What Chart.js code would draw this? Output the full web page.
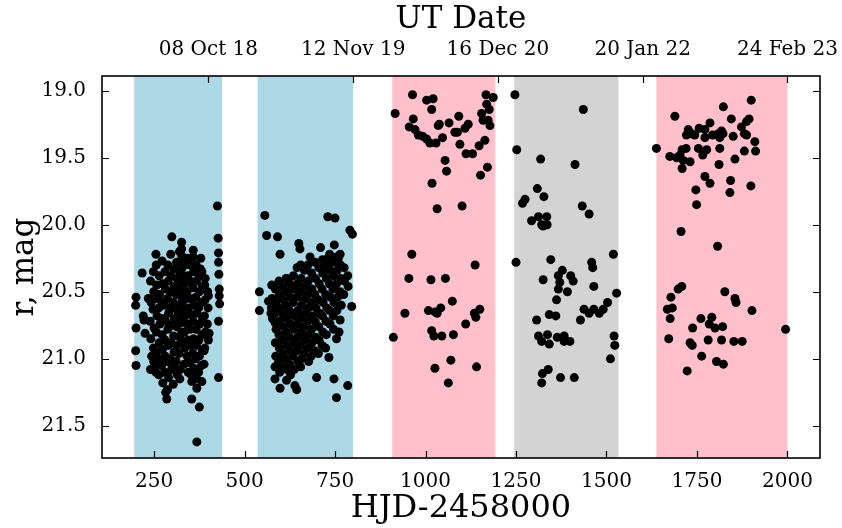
<!DOCTYPE html>
<html>
<head>
<meta charset="utf-8">
<script src="https://cdn.jsdelivr.net/npm/chart.js@4"></script>
<style>
  html, body { margin: 0; padding: 0; background: #fff; }
  canvas { display: block; }
</style>
</head>
<body>
<canvas id="lcChart" width="842" height="528"></canvas>
<script>
// tick values / labels
const xTicks = [250, 500, 750, 1000, 1250, 1500, 1750, 2000];
const yTicks = [19.0, 19.5, 20.0, 20.5, 21.0, 21.5];
const dateTicks = [400, 800, 1200, 1600, 2000];
const dateLabels = ['08 Oct 18', '12 Nov 19', '16 Dec 20', '20 Jan 22', '24 Feb 23'];

// observing seasons (shaded spans)
const seasonStart = [195, 536, 908, 1245, 1638];
const seasonEnd = [438, 800, 1193, 1533, 2000];
const seasonColor = ['#add8e6', '#add8e6', '#ffc0cb', '#d3d3d3', '#ffc0cb'];

// photometry: [HJD-2458000, r mag]
const season1 = [
  [200,20.54],[199,20.60],[200,20.77],[199,20.94],[200,21.05],
  [217,20.36],[234,20.55],[220,20.68],[222,20.71],[225,20.81],
  [255,20.22],[299,20.09],[358,20.19],[379,20.25],[378,20.33],[391,20.40],[400,20.53],
  [285,21.30],[354,21.30],[375,21.36],[368,21.62],[287,21.23],[303,21.19],[321,21.15],
  [354,21.17],[368,21.22],[382,21.17],[252,21.05],
  [425,19.86],[427,20.10],[428,20.21],[428,20.28],[429,20.37],[430,20.48],[430,20.53],
  [431,20.59],[428,20.72],[428,21.14],[402,20.81],[388,20.94],[388,21.04],
  [240,20.42],[242,20.58],[239,20.72],[241,20.85],[243,20.98],[240,21.08],
  [248,20.35],[249,20.50],[247,20.63],[250,20.77],[248,20.92],[249,21.02],
  [256,20.30],[257,20.45],[255,20.55],[258,20.68],[256,20.80],[257,20.95],[255,21.10],
  [264,20.38],[265,20.52],[263,20.62],[266,20.74],[264,20.88],[265,21.00],[263,21.12],
  [272,20.27],[273,20.44],[271,20.58],[274,20.70],[272,20.82],[273,20.93],[271,21.05],[274,21.18],
  [280,20.35],[281,20.48],[279,20.60],[282,20.72],[280,20.86],[281,20.98],[279,21.10],[282,21.25],
  [288,20.30],[289,20.42],[287,20.55],[290,20.66],[288,20.78],[289,20.90],[287,21.02],[290,21.14],
  [296,20.22],[297,20.38],[295,20.50],[298,20.62],[296,20.75],[297,20.88],[295,21.00],[298,21.08],
  [304,20.33],[305,20.46],[303,20.58],[306,20.70],[304,20.83],[305,20.95],[303,21.05],
  [312,20.28],[313,20.40],[311,20.52],[314,20.64],[312,20.76],[313,20.90],[311,21.02],[314,21.12],
  [320,20.20],[321,20.35],[319,20.48],[322,20.60],[320,20.72],[321,20.84],[319,20.96],[322,21.08],
  [326,20.13],[326,20.18],[326,20.23],[326,20.28],[326,20.33],[326,20.38],[326,20.43],[326,20.48],
  [326,20.53],[326,20.58],[326,20.63],[326,20.68],[326,20.73],[326,20.80],[326,20.88],
  [334,20.30],[335,20.44],[333,20.56],[336,20.68],[334,20.80],[335,20.92],[333,21.04],
  [342,20.25],[343,20.38],[341,20.50],[344,20.62],[342,20.74],[343,20.86],[341,20.98],[344,21.10],
  [350,20.30],[351,20.42],[349,20.55],[352,20.67],[350,20.78],[351,20.90],[349,21.03],[352,21.12],
  [358,20.24],[359,20.35],[357,20.47],[360,20.60],[358,20.72],[359,20.85],[357,20.96],[360,21.07],
  [366,20.30],[367,20.42],[365,20.54],[368,20.66],[366,20.78],[367,20.90],[365,21.00],[368,21.15],
  [374,20.38],[375,20.50],[373,20.62],[376,20.74],[374,20.86],[375,20.98],[373,21.10],
  [382,20.35],[383,20.46],[381,20.58],[384,20.70],[382,20.82],[383,20.94],[381,21.05],
  [390,20.45],[391,20.56],[389,20.68],[392,20.80],[390,20.92],
  [398,20.50],[399,20.62],[397,20.74],[400,20.86]
];
const season2 = [
  [556,19.93],[561,20.08],[591,20.09],[598,20.22],[730,19.94],[750,19.95],[791,20.04],[798,20.07],
  [650,20.14],[653,20.18],[710,20.17],[748,20.15],[681,20.24],[764,20.22],[759,20.25],[730,20.25],
  [722,20.28],[616,20.40],[541,20.50],[541,20.64],[796,20.61],[566,20.57],[573,20.66],[584,20.73],
  [595,20.99],[584,21.15],[598,21.22],[616,21.16],[639,21.20],[644,21.23],[747,21.15],[785,21.20],
  [754,21.29],[699,21.14],[761,20.80],[754,20.85],[764,20.71],[733,20.99],
  [575,20.45],[576,20.55],[574,20.62],[577,20.70],
  [585,20.48],[586,20.58],[584,20.66],[587,20.78],[585,20.88],[586,20.98],[584,21.06],
  [595,20.42],[596,20.52],[594,20.62],[597,20.72],[595,20.82],[596,20.92],[594,21.02],[597,21.10],
  [605,20.46],[606,20.56],[604,20.66],[607,20.76],[605,20.86],[606,20.96],[604,21.06],
  [615,20.40],[616,20.50],[614,20.60],[617,20.70],[615,20.80],[616,20.90],[614,21.00],[617,21.08],
  [625,20.44],[626,20.54],[624,20.64],[627,20.74],[625,20.84],[626,20.94],[624,21.04],[627,21.12],
  [635,20.38],[636,20.48],[634,20.58],[637,20.68],[635,20.78],[636,20.88],[634,20.98],[637,21.08],
  [645,20.32],[646,20.44],[644,20.54],[647,20.64],[645,20.74],[646,20.84],[644,20.94],[647,21.02],
  [655,20.30],[656,20.40],[654,20.50],[657,20.60],[655,20.70],[656,20.80],[654,20.90],[657,21.00],[655,21.06],
  [665,20.34],[666,20.46],[664,20.56],[667,20.66],[665,20.76],[666,20.86],[664,20.96],
  [675,20.30],[676,20.42],[674,20.52],[677,20.62],[675,20.72],[676,20.82],[674,20.92],[677,21.02],
  [685,20.36],[686,20.48],[684,20.58],[687,20.68],[685,20.78],[686,20.88],[684,20.98],
  [695,20.28],[696,20.40],[694,20.52],[697,20.62],[695,20.72],[696,20.84],[694,20.94],
  [705,20.32],[706,20.44],[704,20.56],[707,20.66],[705,20.76],[706,20.86],[704,20.96],
  [715,20.26],[716,20.36],[714,20.48],[717,20.58],[715,20.68],[716,20.80],[714,20.90],
  [725,20.30],[726,20.40],[724,20.52],[727,20.62],[725,20.72],[726,20.82],[724,20.92],
  [735,20.22],[736,20.34],[734,20.44],[737,20.54],[735,20.64],[736,20.74],
  [745,20.28],[746,20.38],[744,20.48],[747,20.58],[745,20.68],[746,20.78],
  [755,20.24],[756,20.34],[754,20.44],[757,20.54],[755,20.64],
  [765,20.30],[766,20.40],[764,20.50],[767,20.60],
  [775,20.32],[776,20.42],[774,20.52],
  [785,20.38],[786,20.46]
];
const season3 = [
  [916,19.17],[964,19.03],[1003,19.07],[1021,19.06],[1017,19.14],[966,19.21],[955,19.27],[971,19.29],
  [980,19.33],[992,19.34],[1003,19.36],[1012,19.39],[1029,19.39],[1035,19.26],[1038,19.25],[1047,19.35],
  [1065,19.24],[1092,19.19],[1081,19.31],[1088,19.31],[1109,19.28],[1118,19.25],[1095,19.40],[1112,19.47],
  [1130,19.47],[1148,19.41],[1164,19.37],[1054,19.52],[1058,19.60],[1018,19.69],[1152,19.63],[1171,19.57],
  [1167,19.03],[1187,19.05],[1169,19.10],[1176,19.14],[1155,19.17],[1159,19.22],[1173,19.22],[1178,19.26],
  [1032,19.88],[1101,19.86],
  [962,20.22],[1137,20.30],[954,20.40],[1015,20.41],[1055,20.40],[1074,20.57],[943,20.66],[1008,20.64],
  [1026,20.65],[1032,20.66],[1042,20.62],[1111,20.74],[1135,20.66],[1139,20.69],[1150,20.63],[911,20.84],
  [1017,20.79],[1023,20.83],[1045,20.83],[1077,20.82],[1070,21.01],[1026,21.07],[1141,21.06],[1063,21.18]
];
const season4 = [
  [1247,19.03],[1436,19.14],[1252,19.44],[1318,19.51],[1413,19.55],[1309,19.73],[1327,19.79],[1268,19.84],
  [1275,19.81],[1433,19.86],[1452,19.92],[1293,19.97],[1312,19.94],[1321,20.00],[1335,19.94],[1325,20.01],
  [1336,20.00],[1250,20.28],[1346,20.26],[1519,20.22],[1459,20.28],[1462,20.32],[1378,20.34],[1367,20.38],
  [1401,20.38],[1408,20.42],[1371,20.43],[1367,20.48],[1392,20.50],[1325,20.41],[1465,20.46],[1528,20.51],
  [1362,20.56],[1438,20.63],[1452,20.66],[1465,20.63],[1480,20.66],[1491,20.63],[1503,20.58],[1428,20.71],
  [1342,20.67],[1360,20.68],[1307,20.71],[1312,20.83],[1321,20.87],[1337,20.82],[1342,20.89],[1364,20.84],
  [1383,20.83],[1383,20.87],[1399,20.87],[1521,20.83],[1523,20.90],[1511,21.00],[1323,21.11],[1339,21.08],
  [1321,21.18],[1373,21.14],[1411,21.14]
];
const season5 = [
  [1638,19.43],[1689,19.19],[1823,19.12],[1900,19.07],[1845,19.21],[1786,19.24],[1887,19.23],[1894,19.21],
  [1873,19.27],[1726,19.29],[1721,19.33],[1735,19.32],[1744,19.33],[1756,19.28],[1772,19.29],[1772,19.35],
  [1793,19.33],[1809,19.32],[1813,19.35],[1822,19.32],[1818,19.30],[1850,19.34],[1881,19.32],[1887,19.33],
  [1910,19.38],[1912,19.45],[1881,19.45],[1720,19.43],[1709,19.44],[1703,19.48],[1675,19.49],[1694,19.50],
  [1712,19.52],[1731,19.53],[1754,19.43],[1777,19.44],[1766,19.48],[1813,19.43],[1855,19.51],[1811,19.55],
  [1709,19.58],[1772,19.64],[1786,19.69],[1843,19.67],[1899,19.71],[1747,19.74],[1841,19.76],
  [1749,19.85],[1706,20.05],[1807,20.16],
  [1708,20.46],[1698,20.48],[1678,20.54],[1827,20.50],[1855,20.55],[1858,20.58],[1668,20.63],[1682,20.62],
  [1676,20.70],[1902,20.64],[1761,20.70],[1791,20.69],[1784,20.74],[1800,20.77],[1821,20.76],[1738,20.77],
  [1995,20.78],[1672,20.85],[1731,20.88],[1737,20.90],[1781,20.86],[1818,20.86],[1852,20.87],[1875,20.87],
  [1763,20.98],[1804,21.02],[1823,21.04],[1723,21.09]
];

const serif = "'DejaVu Serif', serif";
const allPoints = [].concat(season1, season2, season3, season4, season5).map(p => ({ x: p[0], y: p[1] }));

// shaded seasons + inward ticks + frame, like the matplotlib original
const decorPlugin = {
  id: 'decor',
  beforeDatasetsDraw(chart) {
    const { ctx, chartArea: a, scales } = chart;
    ctx.save();
    ctx.beginPath();
    ctx.rect(a.left, a.top, a.right - a.left, a.bottom - a.top);
    ctx.clip();
    for (let i = 0; i < seasonStart.length; i++) {
      const x0 = scales.x.getPixelForValue(seasonStart[i]);
      const x1 = scales.x.getPixelForValue(seasonEnd[i]);
      ctx.fillStyle = seasonColor[i];
      ctx.fillRect(x0, a.top, x1 - x0, a.bottom - a.top);
    }
    ctx.restore();
  },
  afterDraw(chart) {
    const { ctx, chartArea: a, scales } = chart;
    const len = 7;
    ctx.save();
    ctx.strokeStyle = '#000';
    ctx.lineWidth = 1.2;
    ctx.beginPath();
    xTicks.forEach(v => {
      const px = Math.round(scales.x.getPixelForValue(v)) + 0.5;
      ctx.moveTo(px, a.bottom); ctx.lineTo(px, a.bottom - len);
    });
    dateTicks.forEach(v => {
      const px = Math.round(scales.xTop.getPixelForValue(v)) + 0.5;
      ctx.moveTo(px, a.top); ctx.lineTo(px, a.top + len);
    });
    yTicks.forEach(v => {
      const py = Math.round(scales.y.getPixelForValue(v)) + 0.5;
      ctx.moveTo(a.left, py); ctx.lineTo(a.left + len, py);
      ctx.moveTo(a.right, py); ctx.lineTo(a.right - len, py);
    });
    ctx.stroke();
    ctx.lineWidth = 1.6;
    ctx.strokeRect(a.left, a.top, a.right - a.left, a.bottom - a.top);
    ctx.restore();
  }
};

// let tick labels overhang the frame instead of shrinking the plot
const fitX = h => s => { s.height = h; s.paddingLeft = 0; s.paddingRight = 0; };

new Chart(document.getElementById('lcChart'), {
  type: 'scatter',
  data: {
    datasets: [{
      data: allPoints,
      backgroundColor: '#000',
      borderColor: '#000',
      borderWidth: 0,
      pointRadius: 4.5,
      pointHoverRadius: 4.5
    }]
  },
  options: {
    responsive: false,
    animation: false,
    devicePixelRatio: 1,
    layout: { padding: { left: 0, right: 22, top: 0, bottom: 0 } },
    plugins: { legend: { display: false }, tooltip: { enabled: false } },
    scales: {
      x: {
        type: 'linear', position: 'bottom', min: 106, max: 2090,
        afterBuildTicks: s => { s.ticks = xTicks.map(v => ({ value: v })); },
        afterFit: fitX(70),
        grid: { display: false }, border: { display: false },
        ticks: { color: '#000', font: { family: serif, size: 20 }, padding: 4, maxRotation: 0, autoSkip: false, callback: v => String(v) },
        title: { display: true, text: 'HJD-2458000', color: '#000', font: { family: serif, size: 32 }, padding: { top: 0, bottom: 0 } }
      },
      xTop: {
        type: 'linear', position: 'top', min: 106, max: 2090,
        afterBuildTicks: s => { s.ticks = dateTicks.map(v => ({ value: v })); },
        afterFit: fitX(76),
        grid: { display: false }, border: { display: false },
        ticks: {
          color: '#000', font: { family: serif, size: 20 }, padding: 6, maxRotation: 0, autoSkip: false,
          callback: v => dateLabels[dateTicks.indexOf(v)]
        },
        title: { display: true, text: 'UT Date', color: '#000', font: { family: serif, size: 31 }, padding: { top: 1, bottom: 0 } }
      },
      y: {
        type: 'linear', position: 'left', reverse: true, min: 18.89, max: 21.74,
        afterBuildTicks: s => { s.ticks = yTicks.map(v => ({ value: v })); },
        afterFit: s => { s.width = 102; s.paddingTop = 0; s.paddingBottom = 0; },
        grid: { display: false }, border: { display: false },
        ticks: { color: '#000', font: { family: serif, size: 20 }, padding: 8, callback: v => v.toFixed(1) },
        title: { display: true, text: 'r, mag', color: '#000', font: { family: serif, size: 31 }, padding: { top: 6, bottom: 0 } }
      }
    }
  },
  plugins: [decorPlugin]
});
</script>
</body>
</html>
